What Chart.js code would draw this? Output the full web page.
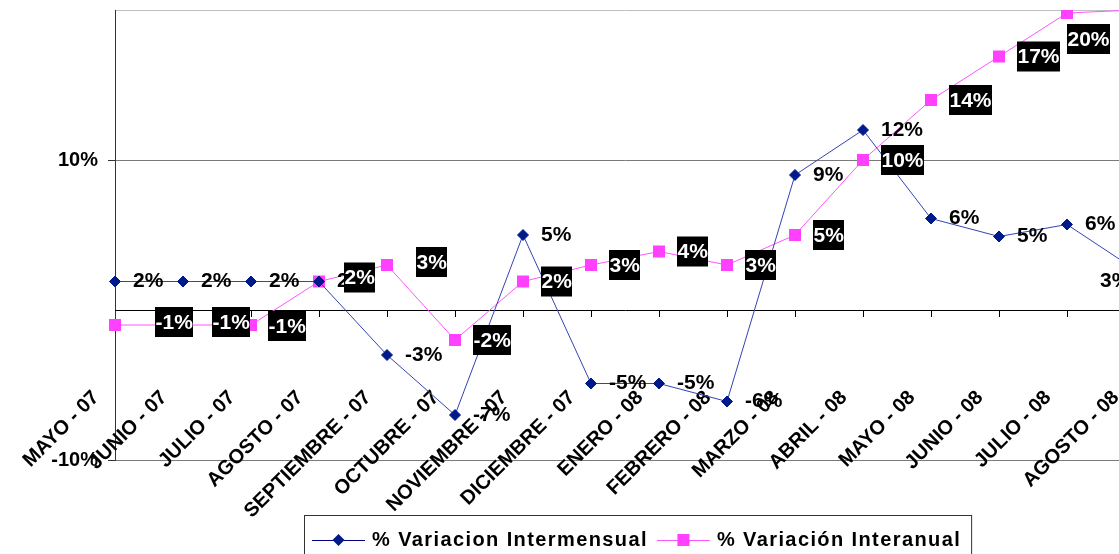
<!DOCTYPE html>
<html>
<head>
<meta charset="utf-8">
<script src="https://cdn.jsdelivr.net/npm/chart.js@4"></script>
<style>
    html, body { margin: 0; padding: 0; background: #fff; overflow: hidden; }
    #wrap { width: 1160px; height: 554px; }
</style>
</head>
<body>
<div id="wrap"><canvas id="main" width="1160" height="554"></canvas></div>
<script>
const MONTHS = [
    'MAYO - 07', 'JUNIO - 07', 'JULIO - 07', 'AGOSTO - 07', 'SEPTIEMBRE - 07',
    'OCTUBRE - 07', 'NOVIEMBRE - 07', 'DICIEMBRE - 07', 'ENERO - 08', 'FEBRERO - 08',
    'MARZO - 08', 'ABRIL - 08', 'MAYO - 08', 'JUNIO - 08', 'JULIO - 08', 'AGOSTO - 08'
]
const INTERMENSUAL = [1.9, 1.9, 1.9, 1.9, -3.0, -7.0, 5.0, -4.9, -4.9, -6.1, 9.0, 12.0, 6.1, 4.9, 5.7, 2.7]
const INTERANUAL = [-1.0, -1.0, -1.0, 1.9, 3.0, -2.0, 1.9, 3.0, 3.9, 3.0, 5.0, 10.0, 14.0, 16.9, 19.8, 20.0]
const Y_LABELS = [10, -10]

const FONT = "'Liberation Sans', Arial, sans-serif"

// label nudges (index -> [dx, dy]) where the default placement collides
const BLUE_NUDGE = { 15: [-35, 12] }
const PINK_NUDGE = { 0: [40, -3], 1: [29, -3], 2: [17, 1], 3: [25, -4], 4: [29, -3], 14: [0, 26] }

const noPad = s => {
    s.paddingLeft = 0
    s.paddingRight = 0
    s.paddingTop = 0
    s.paddingBottom = 0
}

const pctLabels = {
    id: 'pctLabels',
    afterDatasetsDraw(chart) {
        const ctx = chart.ctx
        ctx.save()
        ctx.font = 'bold 21px ' + FONT
        ctx.textBaseline = 'middle'
        ctx.textAlign = 'left'

        chart.getDatasetMeta(0).data.forEach((pt, i) => {
            const [dx, dy] = BLUE_NUDGE[i] || [18, 0]
            ctx.fillStyle = '#000'
            ctx.fillText(Math.round(INTERMENSUAL[i]) + '%', pt.x + dx, pt.y + dy)
        })

        chart.getDatasetMeta(1).data.forEach((pt, i) => {
            const [dx, dy] = PINK_NUDGE[i] || [18, 0]
            const txt = Math.round(INTERANUAL[i]) + '%'
            const w = Math.round(ctx.measureText(txt).width) + 1
            const x = pt.x + dx, y = pt.y + dy
            ctx.fillStyle = '#000'
            ctx.fillRect(x, y - 15, w, 30)
            ctx.fillStyle = '#fff'
            ctx.fillText(txt, x + 0.5, y + 1)
        })
        ctx.restore()
    }
}

const boxLegend = {
    id: 'boxLegend',
    afterDraw(chart) {
        const ctx = chart.ctx
        const left = 304, top = 515, cy = 540
        ctx.save()
        ctx.font = 'bold 20px ' + FONT
        ctx.letterSpacing = '1.4px'
        ctx.textBaseline = 'middle'

        let x = left + 8
        const parts = chart.data.datasets.map(ds => {
            const item = { ds, x }
            x += 53 + 7
            item.tx = x
            x += ctx.measureText(ds.label).width + 9
            return item
        })
        const right = x + 1

        ctx.strokeStyle = '#333'
        ctx.lineWidth = 1
        ctx.strokeRect(left + 0.5, top + 0.5, right - left, 80)

        parts.forEach(p => {
            ctx.strokeStyle = p.ds.legendLine
            ctx.beginPath()
            ctx.moveTo(p.x, cy + 0.5)
            ctx.lineTo(p.x + 53, cy + 0.5)
            ctx.stroke()
            ctx.fillStyle = p.ds.pointBackgroundColor
            const mx = p.x + 26.5
            if (p.ds.pointStyle === 'rectRot') {
                ctx.beginPath()
                ctx.moveTo(mx, cy - 6); ctx.lineTo(mx + 6, cy); ctx.lineTo(mx, cy + 6); ctx.lineTo(mx - 6, cy)
                ctx.closePath()
                ctx.fill()
            } else {
                ctx.fillRect(mx - 6, cy - 6, 12, 12)
            }
            ctx.fillStyle = '#000'
            ctx.textAlign = 'left'
            ctx.fillText(p.ds.label, p.tx, cy)
        })
        ctx.restore()
    }
}

new Chart(document.getElementById('main'), {
    type: 'line',
    data: {
        labels: MONTHS,
        datasets: [{
            label: '% Variacion Intermensual',
            data: INTERMENSUAL,
            borderColor: '#3343b3',
            legendLine: '#000080',
            borderWidth: 1,
            pointStyle: 'rectRot',
            pointRadius: 5.5,
            pointBackgroundColor: '#001a8c',
            pointBorderColor: '#001a8c',
            pointBorderWidth: 1,
            tension: 0
        }, {
            label: '% Variación Interanual',
            data: INTERANUAL,
            borderColor: '#ff55ff',
            legendLine: '#ff55ff',
            borderWidth: 1,
            pointStyle: 'rect',
            pointRadius: 8.5,
            pointBackgroundColor: '#ff40ff',
            pointBorderColor: '#ff40ff',
            pointBorderWidth: 0,
            tension: 0
        }]
    },
    options: {
        responsive: false,
        animation: false,
        layout: { padding: { top: 10, right: 25, bottom: 94, left: 0 } },
        plugins: { legend: { display: false }, tooltip: { enabled: false } },
        scales: {
            y: {
                min: -10,
                max: 20,
                afterFit: s => { s.width = 115; noPad(s) },
                ticks: {
                    stepSize: 10,
                    padding: 10,
                    color: '#000',
                    font: { family: FONT, weight: 'bold', size: 20 },
                    callback: v => Y_LABELS.includes(v) ? v + '%' : ''
                },
                grid: {
                    tickLength: 7,
                    color: c => c.tick.value === 20 ? '#c0c0c0' : c.tick.value === 0 ? 'rgba(0,0,0,0)' : '#7a7a7a',
                    tickColor: c => Y_LABELS.includes(c.tick.value) ? '#333' : 'rgba(0,0,0,0)'
                },
                border: { color: '#333' }
            },
            x: {
                position: { y: 0 },
                afterFit: s => { s.height = 0; noPad(s) },
                grid: { drawOnChartArea: false, tickLength: 6, color: '#000' },
                border: { color: '#000' },
                ticks: {
                    autoSkip: false,
                    minRotation: 45,
                    maxRotation: 45,
                    padding: 70,
                    labelOffset: -19,
                    color: '#000',
                    font: { family: FONT, weight: 'bold', size: 20 }
                }
            }
        }
    },
    plugins: [pctLabels, boxLegend]
})
</script>
</body>
</html>
